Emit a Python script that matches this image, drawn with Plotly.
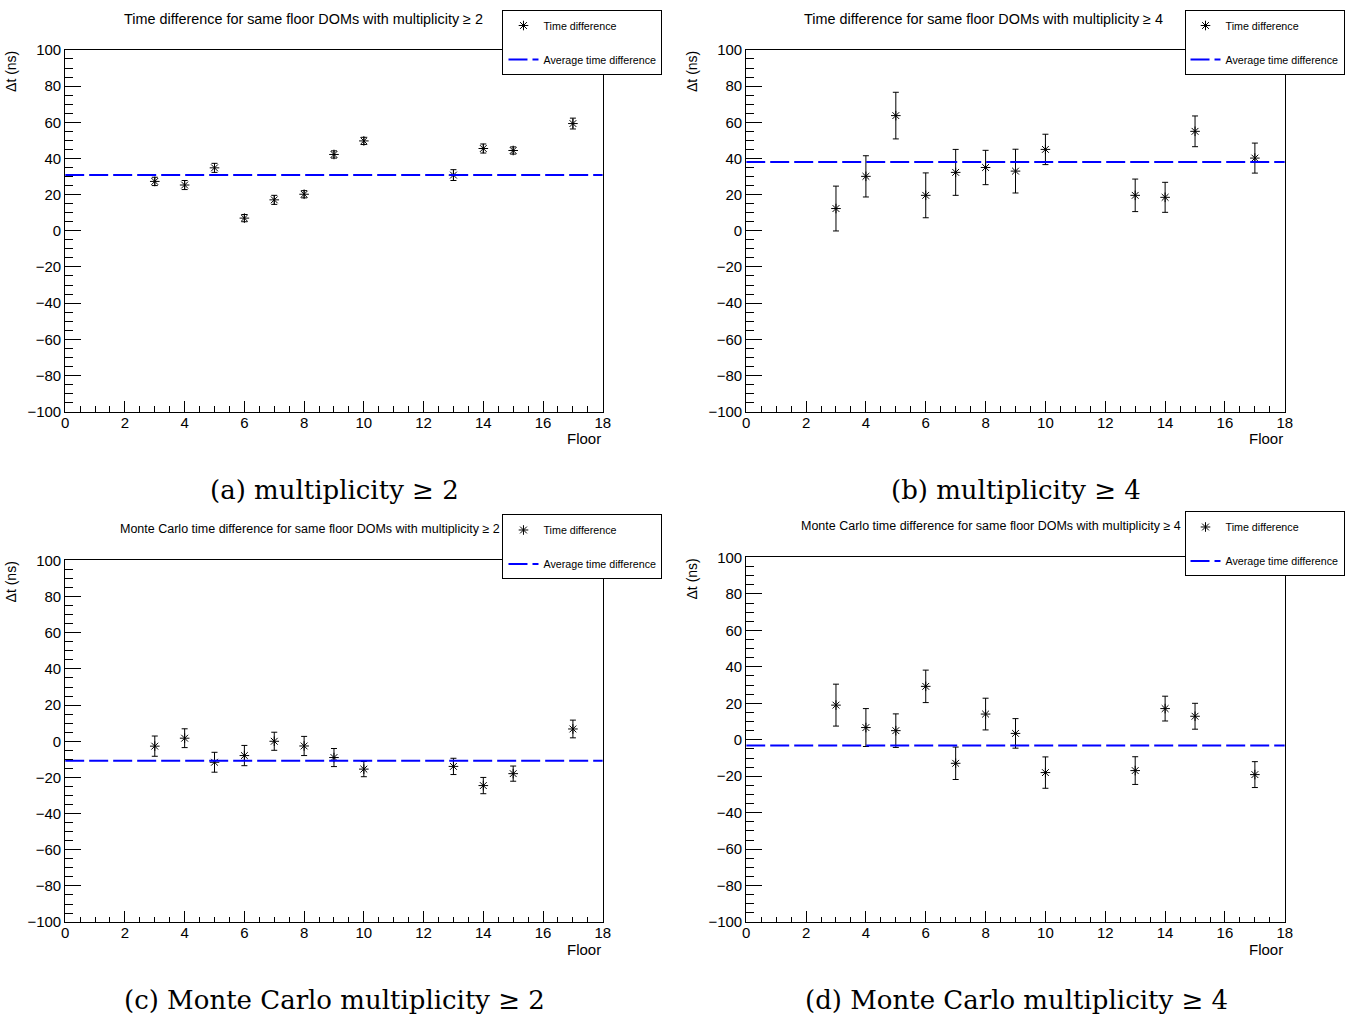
import plotly.graph_objects as go

# ---------------- data ----------------
floors = [3, 4, 5, 6, 7, 8, 9, 10, 13, 14, 15, 17]

dt_a = [27.3, 25.3, 34.8, 7.0, 17.1, 20.2, 42.2, 49.7, 30.8, 45.5, 44.4, 59.3]
err_a = [2.3, 2.5, 2.5, 2.0, 2.5, 2.0, 2.0, 2.0, 3.0, 2.5, 2.0, 3.0]
avg_a = 30.8

dt_b = [12.3, 30.1, 63.7, 19.6, 32.3, 35.0, 33.0, 45.0, 19.6, 18.5, 55.0, 40.2]
err_b = [12.4, 11.4, 12.9, 12.4, 12.7, 9.5, 12.1, 8.4, 9.0, 8.3, 8.5, 8.3]
avg_b = 38.0

dt_c = [-2.7, 1.7, -11.6, -7.9, 0.0, -2.6, -9.0, -15.4, -13.9, -24.5, -17.9, 6.8]
err_c = [5.6, 5.2, 5.5, 5.6, 5.0, 5.3, 5.0, 4.2, 4.5, 4.5, 4.2, 4.9]
avg_c = -10.8

dt_d = [19.0, 6.7, 5.0, 29.3, -12.9, 14.1, 3.5, -18.0, -16.9, 17.1, 12.9, -19.1]
err_d = [11.5, 10.4, 9.2, 8.9, 8.9, 8.7, 8.1, 8.6, 7.6, 6.8, 7.1, 7.1]
avg_d = -3.2

x_range = [0, 18]
y_range = [-100, 100]

titles = [
    "Time difference for same floor DOMs with multiplicity \u2265 2",
    "Time difference for same floor DOMs with multiplicity \u2265 4",
    "Monte Carlo time difference for same floor DOMs with multiplicity \u2265 2",
    "Monte Carlo time difference for same floor DOMs with multiplicity \u2265 4",
]
captions = [
    "(a) multiplicity \u2265 2",
    "(b) multiplicity \u2265 4",
    "(c) Monte Carlo multiplicity \u2265 2",
    "(d) Monte Carlo multiplicity \u2265 4",
]
series_name = "Time difference"
avg_name = "Average time difference"
x_title = "Floor"
y_title = "\u0394t (ns)"

# ---------------- layout geometry ----------------
W, H = 1357, 1021
# the page keeps an 8px body margin; positions below are given in window pixels
OFF = 8
VW, VH = W - 2 * OFF, H - 2 * OFF
SANS = "Liberation Sans, Arial, sans-serif"
SERIF = "DejaVu Serif, Liberation Serif, serif"

def px(x):
    return (x - OFF) / VW

def py(y):
    return 1 - (y - OFF) / VH

panels = [
    # (left, right, top, bottom, title_cx, title_cy, title_size, legend_x, legend_y, caption_cx, caption_cy, ytitle_x)
    (69, 605, 49, 411, 307, 18, 14.4, 505, 9, 338, 489, 15),
    (748, 1285, 49, 411, 985, 18, 14.4, 1185, 9, 1017, 489, 694),
    (69, 605, 560, 922, 313, 529, 12.5, 505, 514, 338, 1000, 15),
    (748, 1285, 557, 922, 992, 526, 12.5, 1185, 511, 1017, 1000, 694),
]
data = [(dt_a, err_a, avg_a), (dt_b, err_b, avg_b), (dt_c, err_c, avg_c), (dt_d, err_d, avg_d)]

fig = go.Figure()
annotations = []
layout_updates = {}

for i, (geo, (vals, errs, avg)) in enumerate(zip(panels, data)):
    l, r, t, b, tcx, tcy, tsz, lx, ly, ccx, ccy, ytx = geo
    n = "" if i == 0 else str(i + 1)
    xa, ya = "x" + n, "y" + n
    leg = "legend" + n
    fig.add_trace(go.Scatter(
        x=floors, y=vals, mode="markers", name=series_name,
        xaxis=xa, yaxis=ya, legend=leg, legendgroup="pts" + n,
        marker=dict(symbol="asterisk-open", size=8, color="black",
                    line=dict(color="black", width=1)),
        error_y=dict(type="data", array=errs, visible=True, color="black",
                     thickness=1, width=3),
    ))
    fig.add_trace(go.Scatter(
        x=x_range, y=[avg, avg], mode="lines", name=avg_name,
        xaxis=xa, yaxis=ya, legend=leg, legendgroup="avg" + n,
        line=dict(color="#0000ff", width=2, dash="19px,5px"),
    ))
    layout_updates["xaxis" + n] = dict(
        domain=[px(l), px(r)], anchor=ya, range=x_range,
        showline=True, mirror=True, linecolor="black", linewidth=1,
        ticks="inside", ticklen=11, tickwidth=1, tickcolor="black",
        tick0=0, dtick=2, showgrid=False, zeroline=False,
        ticklabelstandoff=-3,
        tickfont=dict(family=SANS, size=15, color="black"),
        minor=dict(ticks="inside", ticklen=5.5, dtick=0.5, tickcolor="black", showgrid=False),
    )
    layout_updates["yaxis" + n] = dict(
        domain=[py(b), py(t)], anchor=xa, range=y_range,
        showline=True, mirror=True, linecolor="black", linewidth=1,
        ticks="inside", ticklen=16, tickwidth=1, tickcolor="black",
        tick0=0, dtick=20, showgrid=False, zeroline=False,
        tickfont=dict(family=SANS, size=15, color="black"),
        minor=dict(ticks="inside", ticklen=8, dtick=5, tickcolor="black", showgrid=False),
    )
    layout_updates[leg] = dict(
        x=px(lx), y=py(ly), xanchor="left", yanchor="top",
        bgcolor="white", bordercolor="black", borderwidth=1,
        font=dict(family=SANS, size=10.7, color="black"),
        traceorder="grouped", tracegroupgap=15, itemwidth=30,
    )
    annotations.append(dict(x=px(tcx), y=py(tcy), xref="paper", yref="paper",
                            text=titles[i], showarrow=False, xanchor="center", yanchor="middle",
                            font=dict(family=SANS, size=tsz, color="black")))
    annotations.append(dict(x=px(ytx), y=py(t + 22), xref="paper", yref="paper",
                            text=y_title, showarrow=False, textangle=-90,
                            xanchor="center", yanchor="middle",
                            font=dict(family=SANS, size=14, color="black")))
    annotations.append(dict(x=px(r), y=py(b + 27), xref="paper", yref="paper",
                            text=x_title, showarrow=False, xanchor="right", yanchor="middle",
                            font=dict(family=SANS, size=15, color="black")))
    annotations.append(dict(x=px(ccx), y=py(ccy), xref="paper", yref="paper",
                            text=captions[i], showarrow=False, xanchor="center", yanchor="middle",
                            font=dict(family=SERIF, size=26, color="black")))

fig.update_layout(
    width=W, height=H,
    margin=dict(l=0, r=0, t=0, b=0),
    paper_bgcolor="white", plot_bgcolor="white",
    showlegend=True,
    annotations=annotations,
    **layout_updates,
)

fig.write_html("out.html")
